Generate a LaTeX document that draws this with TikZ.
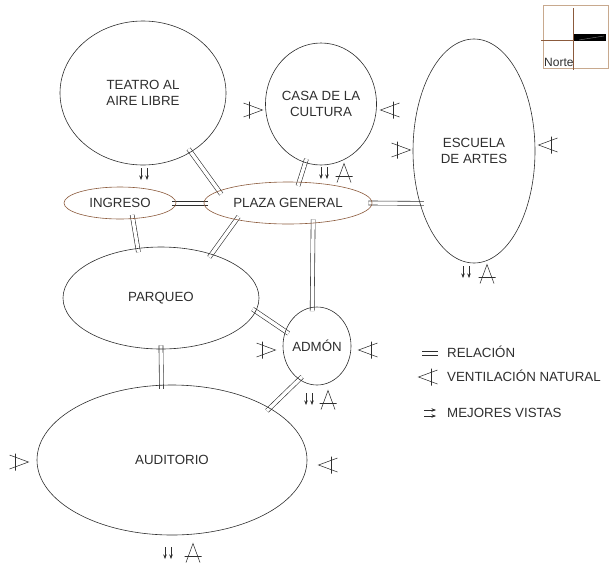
\documentclass[tikz,border=0pt]{standalone}
\usepackage{fontspec}
\setmainfont{Liberation Sans}
\usetikzlibrary{shapes.geometric,arrows.meta,backgrounds}
\definecolor{ink}{HTML}{2E2E2E}
\definecolor{brownline}{HTML}{8B5A3C}
\definecolor{tanline}{HTML}{C8A98E}
\tikzset{
  room/.style={ellipse, draw=ink, line width=0.6pt, inner sep=0pt, text=ink, align=center, font=\fontsize{13.3}{16}\selectfont},
  hub/.style={room, draw=brownline},
  rel/.style={draw=ink, line width=0.6pt, double=white, double distance=3.4pt, shorten <=-4pt, shorten >=-4pt},
  relpair/.style={draw=ink, line width=0.5pt, shorten <=-4pt, shorten >=-4pt},
  symline/.style={draw=ink, line width=0.55pt},
  legendtext/.style={text=ink, anchor=base west, font=\fontsize{13.3}{16}\selectfont, inner sep=0pt},
  vent/.pic={\draw[symline] (-9.5,-7) -- (9.5,0) -- (-9.5,7) (-3.5,-8.5) -- (-3.5,8.5);},
  views/.pic={\draw[symline,-{Stealth[length=4.5pt,width=3.5pt]}] (-3,-6) -- (-3,6);
              \draw[symline,-{Stealth[length=4.5pt,width=3.5pt]}] (3,-6) -- (3,6);}
}
\begin{document}
\begin{tikzpicture}[x=1pt,y=-1pt]
\useasboundingbox (0,0) rectangle (609,568);

% rooms
\node[room, minimum width=166pt, minimum height=144pt] (teatro) at (143,93) {TEATRO AL\\AIRE LIBRE};
\node[room, minimum width=111pt, minimum height=122pt] (casa) at (321,104) {CASA DE LA\\CULTURA};
\node[room, minimum width=122pt, minimum height=224pt] (escuela) at (474,151) {ESCUELA\\DE ARTES};
\node[hub, minimum width=112pt, minimum height=32pt] (ingreso) at (120,203) {INGRESO};
\node[hub, minimum width=168pt, minimum height=42pt] (plaza) at (288,203) {PLAZA GENERAL};
\node[room, minimum width=196pt, minimum height=102pt] (parqueo) at (161,298) {PARQUEO};
\node[room, inner xsep=-3pt, minimum width=68pt, minimum height=78pt] (admon) at (317,346) {ADMÓN};
\node[room, minimum width=270pt, minimum height=150pt] (auditorio) at (172,460) {AUDITORIO};

% relations
\begin{pgfonlayer}{background}
\draw[rel] (teatro.-51) -- (plaza.170);
\draw[rel] (casa.-105) -- (plaza.62);
\draw[relpair] ([yshift=2pt]ingreso.0) -- ([yshift=2pt]plaza.180);
\draw[relpair] ([yshift=-2pt]ingreso.0) -- ([yshift=-2pt]plaza.180);
\draw[rel] (ingreso.-51) -- (parqueo.115);
\draw[rel] (plaza.198) -- (parqueo.41);
\draw[rel] (plaza.0) -- (escuela.224);
\draw[rel] (plaza.-39) -- (admon.97);
\draw[rel] (parqueo.-8) -- (admon.155);
\draw[rel] (parqueo.-90) -- (auditorio.98);
\draw[rel] (admon.242) -- (auditorio.28);
\end{pgfonlayer}

% ventilation symbols, left side
\pic at (253,110) {vent};
\pic at (401,150) {vent};
\pic at (266,350) {vent};
\pic at (19,462) {vent};
% ventilation symbols, right side
\pic[rotate=180] at (390,110) {vent};
\pic[rotate=180] at (548,145) {vent};
\pic[rotate=180] at (368,350) {vent};
\pic[rotate=180] at (328,465) {vent};
% ventilation symbols, below
\pic[rotate=90] at (344,173) {vent};
\pic[rotate=90] at (487,274) {vent};
\pic[rotate=90] at (328,400) {vent};
\pic[rotate=90] at (193,553) {vent};
% views
\pic at (144,174) {views};
\pic at (324,173) {views};
\pic at (466,272) {views};
\pic at (309,399) {views};
\pic at (168,553) {views};

% legend
\draw[draw=ink, line width=0.5pt] (422,351) -- (438,351) (422,355) -- (438,355);
\node[legendtext] (lrel) at (447,357) {RELACIÓN};
\pic[rotate=180] at (428,377) {vent};
\node[legendtext] (lvent) at (447,381) {VENTILACIÓN NATURAL};
\pic[rotate=90] at (430,413) {views};
\node[legendtext] (lviews) at (447,417) {MEJORES VISTAS};

% north sign
\draw[tanline, line width=0.8pt] (543,5) rectangle (608,68);
\draw[brownline, line width=1pt] (541,40) -- (573,40) (573,8) -- (573,70);
\fill[black] (574,34) rectangle (606,41);
\draw[gray, line width=0.4pt] (579,40) -- (604,36);
\node[anchor=base west, inner sep=0pt, text=ink, font=\fontsize{12}{14}\selectfont] (norte) at (544,66) {Norte};
\end{tikzpicture}
\end{document}
